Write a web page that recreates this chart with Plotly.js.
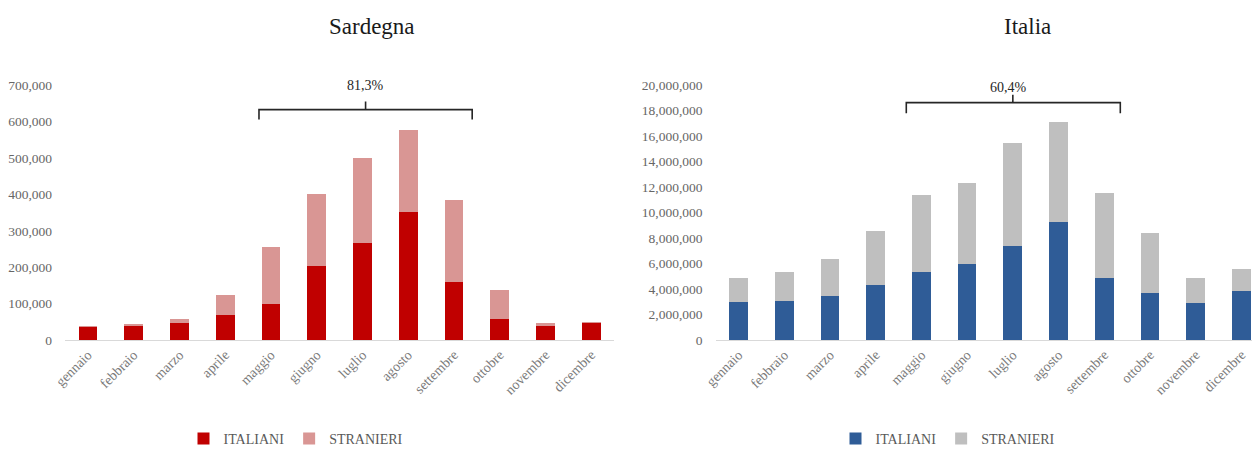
<!DOCTYPE html>
<html>
<head>
<meta charset="utf-8">
<script src="https://cdn.plot.ly/plotly-3.0.1.min.js"></script>
<style>html,body{margin:0;padding:0;background:#fff;overflow:hidden;}#chart{width:1252px;height:455px;}</style>
</head>
<body>
<div id="chart"></div>
<script>
const months = ["gennaio","febbraio","marzo","aprile","maggio","giugno","luglio","agosto","settembre","ottobre","novembre","dicembre"];
const sardItaliani  = [37000, 40000, 48000, 70000, 98000, 203000, 266000, 353000, 160000, 58000, 39000, 47000];
const sardStranieri = [2000, 4000, 9000, 55000, 157000, 197000, 235000, 225000, 225000, 80000, 7000, 2000];
const itaItaliani   = [3000000, 3100000, 3500000, 4350000, 5350000, 5950000, 7400000, 9300000, 4900000, 3700000, 2900000, 3850000];
const itaStranieri  = [1900000, 2250000, 2900000, 4200000, 6050000, 6350000, 8050000, 7850000, 6650000, 4700000, 1950000, 1750000];
const sardShare = "81,3%";
const itaShare = "60,4%";
const leftTitle = "Sardegna";
const rightTitle = "Italia";

const serif = "Liberation Serif, Times New Roman, serif";

const traces = [
  {type:'bar', x: months, y: sardItaliani, name:'ITALIANI', marker:{color:'#C00000'}, xaxis:'x', yaxis:'y', legend:'legend'},
  {type:'bar', x: months, y: sardStranieri, name:'STRANIERI', marker:{color:'#D99694'}, xaxis:'x', yaxis:'y', legend:'legend'},
  {type:'bar', x: months, y: itaItaliani, name:'ITALIANI', marker:{color:'#2F5C97'}, xaxis:'x2', yaxis:'y2', legend:'legend2'},
  {type:'bar', x: months, y: itaStranieri, name:'STRANIERI', marker:{color:'#BFBFBF'}, xaxis:'x2', yaxis:'y2', legend:'legend2'}
];

const W = 1252, H = 455;
const yDom = [1 - 345.5/H, 1 - 86.5/H];
const xTickFont = {family: serif, size: 14, color: '#7a7a7a'};
const yTickFont = {family: serif, size: 13.5, color: '#666666'};

function bracket(xr, yr, x0, x1, xm, yLine, yEnd, yTop) {
  return {type:'path', xref:xr, yref:yr,
    path: `M ${x0} ${yEnd} L ${x0} ${yLine} L ${x1} ${yLine} L ${x1} ${yEnd} M ${xm} ${yLine} L ${xm} ${yTop}`,
    line:{color:'#262626', width:1.6}};
}

const legendFont = {family:serif, size:14, color:'#595959'};

const layout = {
  width: W, height: H,
  margin: {l:0, r:0, t:0, b:0},
  paper_bgcolor:'#ffffff', plot_bgcolor:'#ffffff',
  barmode:'stack', bargap:0.59,
  showlegend:true,
  xaxis: {domain:[65/W, 614/W], range:[-0.5, 11.5], type:'category', tickangle:-45, tickfont:xTickFont,
          showline:true, linecolor:'#d9d9d9', linewidth:1, ticks:'', showgrid:false, zeroline:false, automargin:false},
  yaxis: {domain:yDom, range:[0, 700000], dtick:100000, tickformat:',d', tickfont:yTickFont, showgrid:false, zeroline:false,
          showline:false, ticks:'', automargin:false, ticklabelstandoff:12},
  xaxis2: {domain:[715.6/W, 1], range:[-0.5, 11.23], type:'category', tickangle:-45, tickfont:xTickFont, anchor:'y2',
          showline:true, linecolor:'#d9d9d9', linewidth:1, ticks:'', showgrid:false, zeroline:false, automargin:false},
  yaxis2: {domain:yDom, range:[0, 20000000], dtick:2000000, tickformat:',d', tickfont:yTickFont, anchor:'x2', showgrid:false, zeroline:false,
          showline:false, ticks:'', automargin:false, ticklabelstandoff:12},
  legend: {orientation:'h', x:296/W, xanchor:'center', y:1-446/H, yanchor:'middle', font:legendFont,
           itemwidth:30, traceorder:'normal', bgcolor:'rgba(0,0,0,0)'},
  legend2: {orientation:'h', x:948/W, xanchor:'center', y:1-446/H, yanchor:'middle', font:legendFont,
           itemwidth:30, traceorder:'normal', bgcolor:'rgba(0,0,0,0)'},
  shapes: [
    bracket('x','y', 3.74, 8.4, 6.07, 633000, 606000, 655000),
    bracket('x2','y2', 3.67, 8.35, 6.0, 18630000, 17800000, 19250000)
  ],
  annotations: [
    {xref:'paper', yref:'paper', x:372/W, y:1-27/H, text:leftTitle, showarrow:false, font:{family:serif, size:23, color:'#1a1a1a'}, xanchor:'center', yanchor:'middle'},
    {xref:'paper', yref:'paper', x:1027/W, y:1-27/H, text:rightTitle, showarrow:false, font:{family:serif, size:23, color:'#1a1a1a'}, xanchor:'center', yanchor:'middle'},
    {xref:'x', yref:'y', x:6.07, y:700000, text:sardShare, showarrow:false, font:{family:serif, size:14, color:'#262626'}, yanchor:'middle'},
    {xref:'x2', yref:'y2', x:5.9, y:19800000, text:itaShare, showarrow:false, font:{family:serif, size:14, color:'#262626'}, yanchor:'middle'}
  ]
};

Plotly.newPlot('chart', traces, layout, {displayModeBar:false, staticPlot:true});
</script>
</body>
</html>
